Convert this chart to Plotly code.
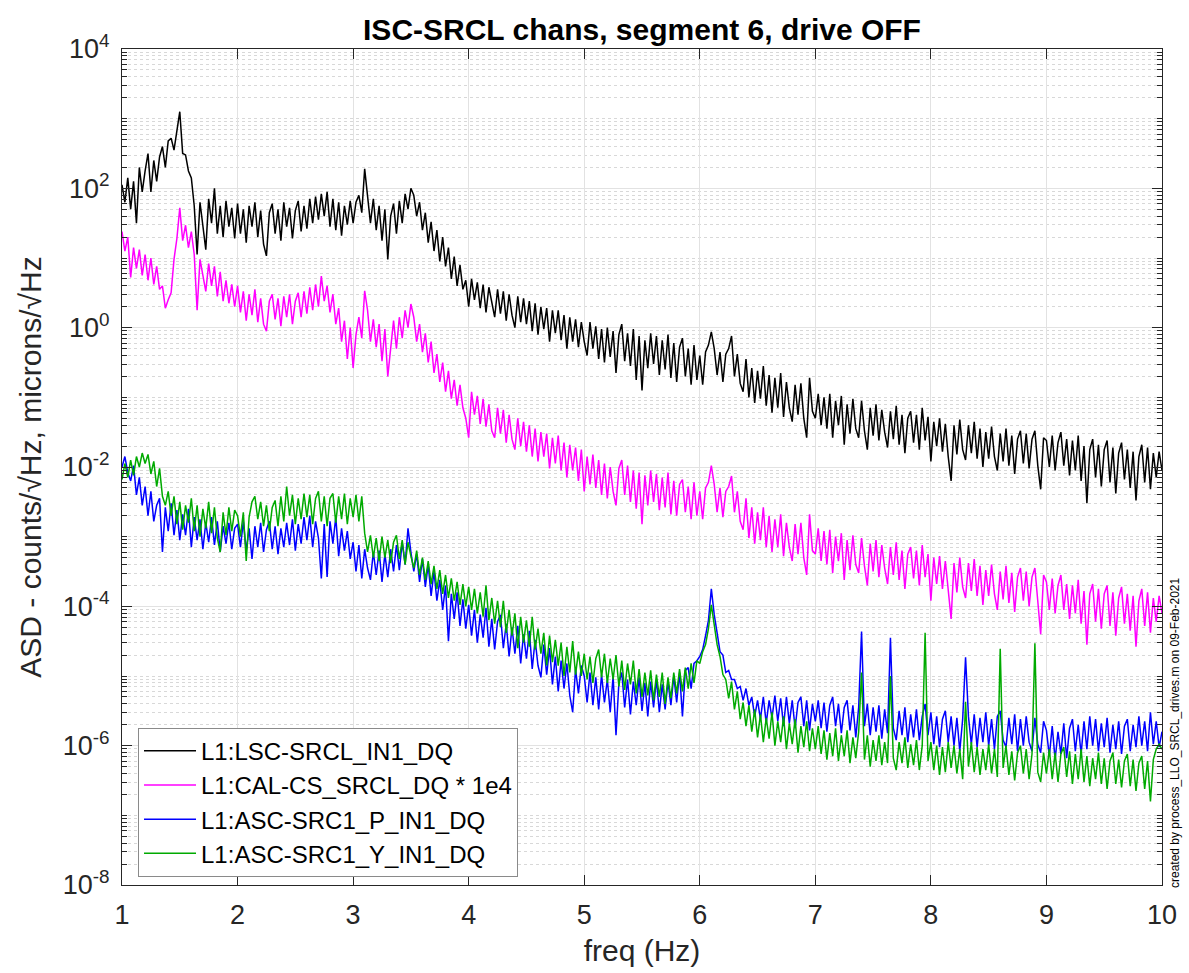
import plotly.graph_objects as go

# ---------------- data (log10 of ASD, sampled every 0.025 Hz from 1 Hz) ----------------
FREQ_START = 1.0
FREQ_STEP = 0.025

black_log = [
    2.05, 1.80, 2.15, 1.70, 2.10, 1.50, 2.30, 1.95, 2.25, 2.50, 1.95, 2.40, 2.10, 2.45, 2.60, 2.30, 2.68, 2.72, 2.55, 2.80,
    3.10, 2.50, 2.48, 2.25, 2.15, 1.75, 1.05, 1.80, 1.45, 1.12, 1.85, 1.50, 2.00, 1.35, 1.75, 1.30, 1.82, 1.45, 1.72, 1.28,
    1.78, 1.35, 1.70, 1.22, 1.75, 1.45, 1.80, 1.30, 1.68, 1.20, 1.03, 1.65, 1.78, 1.35, 1.70, 1.25, 1.80, 1.45, 1.72, 1.28,
    1.68, 1.82, 1.38, 1.75, 1.42, 1.85, 1.50, 1.88, 1.55, 1.92, 1.60, 1.95, 1.45, 1.85, 1.40, 1.80, 1.32, 1.75, 1.48, 1.82,
    1.50, 1.80, 1.90, 1.65, 2.28, 1.92, 1.50, 1.85, 1.40, 1.75, 1.25, 1.70, 0.98, 1.60, 1.78, 1.35, 1.82, 1.50, 1.92, 1.70,
    2.00, 1.90, 1.60, 1.80, 1.40, 1.65, 1.22, 1.52, 1.10, 1.40, 0.95, 1.30, 0.88, 1.15, 0.70, 1.02, 0.60, 0.90, 0.55, 0.68,
    0.30, 0.70, 0.40, 0.65, 0.28, 0.62, 0.22, 0.58, 0.35, 0.15, 0.55, 0.20, 0.52, 0.10, 0.48, 0.18, 0.00, 0.45, 0.08, 0.42,
    0.05, 0.38, -0.05, 0.35, -0.10, 0.30, -0.02, 0.28, -0.20, 0.25, -0.08, 0.25, -0.18, 0.18, -0.30, 0.15, -0.20, 0.12, -0.28, 0.08,
    -0.20, -0.40, 0.08, -0.30, 0.02, -0.45, -0.02, -0.50, 0.00, -0.42, -0.05, -0.65, -0.10, 0.05, -0.48, -0.08, -0.55, -0.02, -0.75, -0.12,
    -0.90, -0.18, -0.58, -0.08, -0.52, -0.12, -0.68, -0.18, -0.60, -0.10, -0.72, -0.22, -0.78, -0.28, -0.15, -0.70, -0.30, -0.82, -0.25, -0.75,
    -0.40, -0.82, -0.35, -0.25, -0.06, -0.30, -0.68, -0.35, -0.78, -0.38, -0.30, -0.12, -0.70, -0.38, -0.80, -0.92, -0.45, -1.00, -0.58, -1.08,
    -0.62, -1.02, -0.55, -1.12, -0.68, -1.22, -0.72, -1.15, -0.65, -1.28, -0.78, -1.15, -1.35, -0.82, -1.25, -0.80, -1.30, -1.58, -0.72, -1.20,
    -1.30, -0.95, -1.40, -1.00, -1.45, -0.95, -1.58, -1.05, -1.40, -0.98, -1.68, -1.10, -1.52, -1.02, -1.45, -1.58, -1.05, -1.48, -1.75, -1.15,
    -1.55, -1.10, -1.62, -1.18, -1.50, -1.72, -1.20, -1.60, -1.12, -1.68, -1.25, -1.80, -1.30, -1.20, -1.65, -1.25, -1.75, -1.15, -1.62, -1.28,
    -1.92, -1.35, -1.70, -1.30, -1.78, -1.38, -1.85, -2.20, -1.40, -1.82, -1.32, -1.75, -1.90, -1.40, -1.80, -1.35, -1.88, -1.45, -2.00, -1.50,
    -1.88, -1.42, -1.85, -2.05, -1.52, -1.92, -1.45, -1.98, -1.55, -2.10, -1.60, -1.48, -1.95, -1.52, -2.02, -1.60, -1.48, -1.98, -2.32, -1.58,
    -1.62, -2.00, -1.55, -2.05, -1.65, -1.50, -1.98, -1.60, -2.12, -1.62, -2.05, -1.55, -2.20, -1.70, -2.52, -1.75, -1.60, -2.15, -1.68, -2.28,
    -1.75, -1.62, -2.22, -1.72, -2.38, -1.80, -1.65, -2.18, -1.75, -2.30, -1.78, -2.48, -1.85, -1.68, -2.22, -1.72, -2.32, -1.80, -2.15, -1.78,
    -2.05,
]

magenta_log = [
    1.38, 1.10, 1.30, 0.72, 1.15, 0.85, 1.12, 0.75, 1.05, 0.68, 1.00, 0.62, 0.88, 0.55, 0.60, 0.28, 0.40, 0.50, 0.98, 1.28,
    1.72, 1.25, 1.47, 1.15, 1.38, 1.05, 0.25, 0.98, 0.75, 0.52, 0.92, 0.60, 0.88, 0.45, 0.80, 0.38, 0.68, 0.35, 0.62, 0.30,
    0.60, 0.22, 0.52, 0.10, 0.48, 0.18, 0.55, 0.08, 0.42, 0.05, -0.05, 0.38, 0.48, 0.12, 0.42, 0.02, 0.45, 0.15, 0.48, 0.05,
    0.38, 0.50, 0.15, 0.52, 0.20, 0.58, 0.25, 0.62, 0.30, 0.74, 0.38, 0.60, 0.22, 0.48, 0.05, 0.28, -0.20, 0.10, -0.45, 0.00,
    -0.58, -0.10, 0.15, -0.15, 0.53, 0.25, -0.20, 0.12, -0.28, 0.05, -0.48, -0.02, -0.70, -0.25, 0.10, -0.30, 0.15, -0.15, 0.25, 0.00,
    0.34, 0.15, -0.20, 0.05, -0.35, -0.08, -0.50, -0.20, -0.65, -0.38, -0.78, -0.50, -0.92, -0.62, -1.02, -0.75, -1.12, -0.82, -1.15, -1.30,
    -1.58, -0.92, -1.25, -0.98, -1.38, -1.02, -1.42, -1.10, -1.48, -1.58, -1.15, -1.52, -1.18, -1.65, -1.25, -1.60, -1.75, -1.30, -1.70, -1.35,
    -1.78, -1.40, -1.85, -1.45, -1.92, -1.50, -1.85, -1.52, -2.02, -1.58, -1.95, -1.55, -2.05, -1.65, -2.15, -1.68, -2.05, -1.72, -2.20, -1.75,
    -2.35, -1.85, -2.25, -1.82, -2.30, -1.90, -2.40, -1.95, -2.45, -2.00, -2.35, -2.55, -2.02, -1.90, -2.40, -1.98, -2.50, -2.05, -2.60, -2.08,
    -2.82, -2.12, -2.55, -2.05, -2.50, -2.10, -2.62, -2.15, -2.58, -2.08, -2.68, -2.20, -2.70, -2.25, -2.18, -2.65, -2.28, -2.75, -2.22, -2.70,
    -2.35, -2.75, -2.30, -2.22, -1.98, -2.25, -2.65, -2.30, -2.72, -2.35, -2.28, -2.13, -2.65, -2.35, -2.78, -2.90, -2.45, -3.02, -2.58, -3.10,
    -2.65, -3.05, -2.58, -3.15, -2.70, -3.22, -2.75, -3.15, -2.68, -3.28, -2.80, -3.15, -3.35, -2.82, -3.25, -2.80, -3.30, -3.55, -2.68, -3.20,
    -3.25, -2.88, -3.35, -2.92, -3.40, -2.90, -3.52, -3.00, -3.35, -2.95, -3.62, -3.05, -3.48, -2.98, -3.40, -3.52, -3.02, -3.42, -3.70, -3.10,
    -3.50, -3.05, -3.58, -3.12, -3.45, -3.68, -3.15, -3.55, -3.08, -3.62, -3.20, -3.75, -3.25, -3.15, -3.60, -3.20, -3.70, -3.12, -3.58, -3.25,
    -3.92, -3.30, -3.68, -3.28, -3.75, -3.35, -3.82, -4.18, -3.38, -3.80, -3.30, -3.72, -3.88, -3.38, -3.78, -3.32, -3.85, -3.42, -3.98, -3.48,
    -3.85, -3.40, -3.82, -4.05, -3.50, -3.90, -3.42, -3.95, -3.52, -4.08, -3.58, -3.45, -3.92, -3.50, -4.00, -3.58, -3.45, -3.95, -4.40, -3.55,
    -3.65, -4.05, -3.60, -4.10, -3.70, -3.55, -4.05, -3.68, -4.18, -3.70, -4.10, -3.62, -4.25, -3.78, -4.55, -3.82, -3.68, -4.22, -3.75, -4.32,
    -3.82, -3.70, -4.28, -3.80, -4.42, -3.88, -3.72, -4.25, -3.82, -4.35, -3.85, -4.58, -3.92, -3.75, -4.28, -3.80, -4.38, -3.88, -4.22, -3.85,
    -4.10,
]

blue_log = [
    -2.00, -1.85, -2.08, -2.20, -1.98, -2.40, -2.15, -2.55, -2.28, -2.70, -2.35, -2.78, -2.55, -2.45, -3.22, -2.58, -2.92, -2.52, -2.98, -2.62,
    -3.05, -2.68, -2.98, -2.60, -3.15, -2.72, -3.05, -2.75, -3.18, -2.80, -3.08, -2.72, -3.12, -2.78, -3.22, -2.85, -3.10, -2.80, -3.18, -2.88,
    -2.82, -3.15, -2.78, -3.20, -2.88, -3.32, -2.85, -3.15, -2.80, -3.22, -2.90, -2.78, -3.18, -2.85, -3.25, -2.88, -3.15, -2.80, -3.12, -2.75,
    -3.20, -2.82, -3.10, -2.72, -3.05, -2.70, -3.15, -2.78, -3.02, -3.60, -2.82, -3.58, -2.78, -3.10, -2.72, -3.28, -2.88, -3.20, -2.92, -3.32,
    -3.08, -3.50, -3.12, -3.60, -3.18, -3.45, -3.62, -3.22, -3.55, -3.20, -3.65, -3.25, -3.58, -3.18, -3.50, -3.12, -3.48, -3.08, -3.40, -2.88,
    -3.22, -3.50, -3.25, -3.65, -3.32, -3.72, -3.40, -3.85, -3.50, -3.92, -3.62, -4.05, -3.70, -4.50, -3.82, -4.18, -3.80, -4.28, -3.90, -4.32,
    -3.98, -4.42, -4.05, -4.52, -4.12, -4.45, -4.02, -4.58, -4.18, -4.62, -4.22, -4.12, -4.60, -4.25, -4.72, -4.30, -4.68, -4.28, -4.82, -4.40,
    -4.75, -4.35, -4.90, -4.48, -4.85, -5.02, -4.55, -4.98, -4.60, -5.12, -4.72, -5.22, -4.78, -5.18, -4.82, -5.28, -5.52, -4.90, -5.25, -4.85,
    -5.00, -5.38, -4.95, -5.42, -5.02, -5.48, -4.98, -5.38, -5.05, -5.52, -5.00, -5.85, -5.10, -4.95, -5.45, -5.05, -5.55, -5.08, -5.42, -5.02,
    -5.50, -5.10, -5.58, -5.08, -5.45, -5.05, -5.52, -5.12, -5.48, -5.08, -5.42, -5.00, -5.38, -4.95, -5.58, -4.92, -4.88, -5.18, -4.82, -4.78,
    -4.72, -4.62, -4.42, -4.20, -3.75, -4.12, -4.38, -4.65, -4.70, -4.95, -4.92, -5.05, -5.05, -5.18, -5.15, -5.35, -5.18, -5.42, -5.30, -5.58,
    -5.35, -5.62, -5.30, -5.68, -5.35, -5.60, -5.28, -5.65, -5.32, -5.72, -5.30, -5.68, -5.35, -5.75, -5.38, -5.30, -5.72, -5.35, -5.78, -5.40,
    -5.65, -5.35, -5.75, -5.38, -5.80, -5.42, -5.30, -5.72, -5.40, -5.82, -5.45, -5.35, -5.78, -5.42, -5.88, -5.45, -4.36, -5.72, -5.40, -5.85,
    -5.45, -5.80, -5.42, -5.90, -5.48, -5.82, -4.45, -5.75, -5.92, -5.50, -5.85, -5.45, -5.95, -5.55, -5.88, -5.48, -5.92, -5.58, -5.40, -5.85,
    -5.52, -5.98, -5.58, -6.02, -5.62, -5.50, -5.95, -5.58, -6.00, -5.60, -6.08, -5.62, -4.73, -5.58, -5.98, -5.55, -6.02, -5.60, -5.95, -5.52,
    -6.00, -5.62, -6.05, -5.58, -5.50, -5.92, -6.02, -5.60, -5.98, -5.55, -6.08, -5.62, -6.00, -5.58, -5.95, -6.08, -5.60, -5.98, -6.10, -5.65,
    -5.78, -6.15, -5.72, -6.20, -5.80, -6.12, -5.68, -6.18, -5.75, -5.62, -6.08, -5.70, -6.12, -5.65, -6.05, -5.58, -6.00, -5.62, -6.08, -5.68,
    -6.02, -5.60, -6.10, -5.70, -6.05, -5.65, -6.12, -5.72, -5.62, -6.08, -5.70, -6.02, -5.58, -6.00, -5.65, -6.08, -5.52, -5.98, -5.65, -6.02,
    -5.80,
]

green_log = [
    -2.18, -1.95, -2.15, -1.90, -2.12, -1.85, -2.00, -1.80, -1.95, -1.82, -2.10, -1.92, -2.28, -2.02, -2.42, -2.55, -2.35, -2.70, -2.42, -2.82,
    -2.50, -2.90, -2.55, -2.80, -2.45, -2.92, -2.55, -3.00, -2.60, -2.88, -2.50, -2.95, -2.58, -3.02, -3.22, -2.65, -2.98, -2.58, -2.92, -2.62,
    -2.70, -3.00, -2.65, -3.35, -2.72, -2.50, -2.42, -2.75, -2.50, -2.85, -2.55, -2.92, -2.58, -2.48, -2.85, -2.42, -2.78, -2.28, -2.70, -2.40,
    -2.82, -2.45, -2.75, -2.38, -2.72, -2.40, -2.82, -2.45, -2.35, -2.78, -2.42, -2.85, -2.45, -2.38, -2.80, -2.42, -2.75, -2.38, -2.82, -2.45,
    -2.72, -2.40, -2.78, -2.42, -2.95, -3.22, -2.98, -3.30, -3.02, -3.35, -3.00, -3.30, -3.05, -3.38, -3.08, -2.98, -3.32, -3.05, -3.40, -3.08,
    -3.28, -3.45, -3.20, -3.55, -3.30, -3.62, -3.35, -3.68, -3.42, -3.75, -3.48, -3.82, -3.55, -3.88, -3.60, -3.92, -3.65, -3.98, -3.68, -4.00,
    -3.72, -4.05, -3.75, -4.10, -3.80, -4.15, -3.70, -4.20, -3.88, -4.25, -3.92, -4.30, -3.92, -4.38, -4.05, -4.42, -4.10, -4.60, -4.15, -4.52,
    -4.20, -4.58, -4.15, -4.62, -4.32, -4.68, -4.38, -4.85, -4.42, -4.80, -4.48, -4.85, -4.52, -5.00, -4.58, -4.95, -4.50, -4.98, -4.65, -5.00,
    -4.68, -5.05, -4.72, -5.10, -4.75, -4.62, -5.02, -4.68, -5.10, -4.75, -5.05, -4.70, -5.15, -4.78, -5.20, -4.82, -5.12, -4.78, -5.25, -4.90,
    -5.30, -4.95, -5.28, -4.92, -5.35, -4.98, -5.30, -4.95, -5.40, -5.02, -5.32, -4.95, -5.25, -4.90, -5.22, -4.88, -5.18, -4.82, -5.10, -4.78,
    -4.82, -4.65, -4.55, -4.32, -3.98, -4.28, -4.55, -4.72, -4.98, -5.05, -5.32, -5.08, -5.48, -5.22, -5.62, -5.38, -5.72, -5.42, -5.80, -5.48,
    -5.88, -5.55, -5.95, -5.60, -5.90, -5.52, -6.00, -5.65, -5.95, -5.58, -6.05, -5.68, -5.98, -5.62, -6.10, -5.72, -6.02, -5.65, -6.08, -5.75,
    -6.05, -5.72, -6.12, -5.78, -6.20, -5.82, -6.15, -5.75, -6.22, -5.85, -6.15, -5.78, -6.25, -5.88, -6.18, -5.80, -4.95, -6.20, -5.85, -6.30,
    -5.92, -6.22, -5.85, -6.28, -5.95, -6.25, -5.00, -6.18, -6.35, -5.95, -6.25, -5.88, -6.32, -5.98, -6.28, -5.92, -6.35, -6.00, -4.38, -6.22,
    -5.95, -6.35, -6.00, -6.42, -6.02, -6.38, -5.95, -6.32, -6.00, -6.40, -6.05, -6.48, -5.37, -6.30, -5.95, -6.38, -6.02, -6.42, -6.05, -6.35,
    -5.98, -6.40, -6.05, -6.45, -4.61, -6.32, -6.00, -6.42, -6.08, -6.50, -6.10, -6.00, -6.40, -6.05, -6.48, -6.12, -4.53, -6.38, -6.52, -6.10,
    -6.40, -6.05, -6.48, -6.10, -6.52, -6.12, -6.02, -6.45, -6.08, -6.55, -6.12, -6.48, -6.05, -6.52, -6.15, -6.58, -6.18, -6.48, -6.10, -6.55,
    -6.18, -6.62, -6.22, -6.10, -6.55, -6.20, -6.60, -6.22, -6.12, -6.58, -6.20, -6.65, -6.25, -6.15, -6.62, -6.22, -6.80, -6.20, -6.05, -5.98,
    -6.05,
]

series_names = ["L1:LSC-SRCL_IN1_DQ", "L1:CAL-CS_SRCL_DQ * 1e4", "L1:ASC-SRC1_P_IN1_DQ", "L1:ASC-SRC1_Y_IN1_DQ"]
series_colors = ["#000000", "#FF00FF", "#0000FF", "#00AA00"]
series_logs = [black_log, magenta_log, blue_log, green_log]

y_tick_exponents = [-8, -6, -4, -2, 0, 2, 4]
x_ticks = [1, 2, 3, 4, 5, 6, 7, 8, 9, 10]

FONT = "Liberation Sans, Arial, Helvetica, sans-serif"
AXCOL = "#262626"

fig = go.Figure()
for name, logs, col in zip(series_names, series_logs, series_colors):
    xs = [round(FREQ_START + FREQ_STEP * i, 4) for i in range(len(logs))]
    ys = [10 ** v for v in logs]
    fig.add_trace(go.Scatter(x=xs, y=ys, mode="lines", name=name,
                             line=dict(color=col, width=1.5)))

fig.update_layout(
    width=1189, height=973,
    margin=dict(l=122, r=26, t=49, b=81),
    paper_bgcolor="white", plot_bgcolor="white",
    font=dict(family=FONT, size=27, color=AXCOL),
    title=dict(text="<b>ISC-SRCL chans, segment 6, drive OFF</b>",
               x=0.5, xref="paper", xanchor="center",
               y=1 - 29 / 973, yref="container", yanchor="middle",
               font=dict(family=FONT, size=30, color="black")),
    showlegend=True,
    legend=dict(x=0.0154, y=0.010, xanchor="left", yanchor="bottom",
                bgcolor="white", bordercolor="#8a8a8a", borderwidth=1,
                font=dict(family=FONT, size=24, color="black"),
                tracegroupgap=0, itemwidth=52),
)

fig.update_xaxes(
    range=[1, 10], tickmode="array", tickvals=x_ticks,
    ticktext=[str(v) for v in x_ticks],
    ticks="inside", ticklen=10, tickwidth=1, tickcolor=AXCOL,
    mirror="allticks", showline=True, linecolor=AXCOL, linewidth=1,
    showgrid=True, gridcolor="#e2e2e2", gridwidth=1, zeroline=False,
    tickfont=dict(size=27, color=AXCOL), ticklabelstandoff=6,
    title=dict(text="freq (Hz)", font=dict(size=30, color=AXCOL), standoff=10),
)

fig.update_yaxes(
    type="log", range=[-8, 4], tickmode="array",
    tickvals=[10 ** e for e in y_tick_exponents],
    ticktext=["10<sup>%d</sup>" % e for e in y_tick_exponents],
    ticks="inside", ticklen=10, tickwidth=1, tickcolor=AXCOL,
    mirror="allticks", showline=True, linecolor=AXCOL, linewidth=1,
    showgrid=True, gridcolor="#e2e2e2", gridwidth=1, zeroline=False,
    tickfont=dict(size=27, color=AXCOL), ticklabelstandoff=6,
    minor=dict(dtick="D1", ticks="inside", ticklen=5, tickcolor=AXCOL,
               showgrid=True, griddash="dot", gridcolor="#d8d8d8", gridwidth=1),
    title=dict(text="ASD - counts/\u221aHz, microns/\u221aHz",
               font=dict(size=30, color=AXCOL), standoff=12),
)

fig.add_annotation(
    text="created by process_LLO_SRCL_drives.m on 09-Feb-2021",
    xref="paper", yref="paper", x=1.0125, y=0.0,
    xanchor="center", yanchor="bottom", textangle=-90, showarrow=False,
    yshift=-5,
    font=dict(family=FONT, size=12, color="black"),
)

fig.write_html("out.html")
